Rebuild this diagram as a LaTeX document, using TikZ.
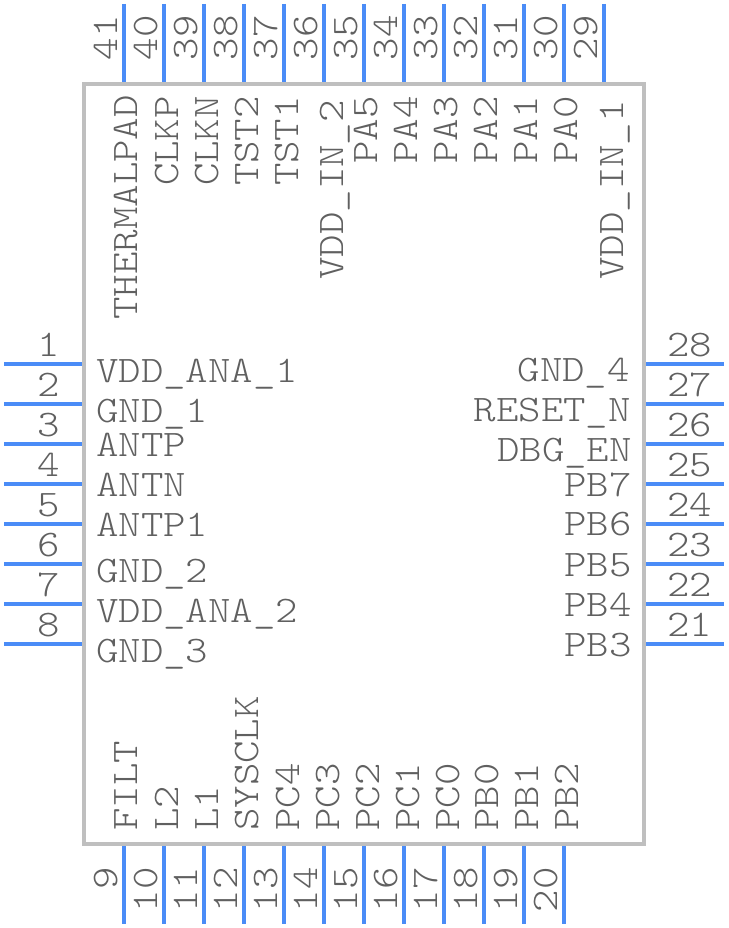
\documentclass[tikz,border=0pt]{standalone}
\usepackage{fontspec}
\setmonofont[FakeStretch=1.14]{Latin Modern Mono Light}
\definecolor{pinblue}{HTML}{4A8CF7}
\definecolor{bodygray}{HTML}{BFBFBF}
\definecolor{labelgray}{HTML}{606060}
\tikzset{
    pin line/.style={line width=4pt, pinblue},
    pin text/.style={inner sep=0pt, text=labelgray, font=\fontsize{37.5}{37.5}\selectfont\ttfamily},
}

\begin{document}
\begin{tikzpicture}[x=1pt, y=-1pt]
        \useasboundingbox (0,0) rectangle (728,928);

        % left pins
        \foreach \n/\y in {1/364,2/404,3/444,4/484,5/524,6/564,7/604,8/644} {
            \draw[pin line] (4,\y) -- (84,\y);
            \node[pin text, anchor=base east] (num\n) at (60,\y-8) {\n};
        }

        % right pins
        \foreach \n/\y in {28/364,27/404,26/444,25/484,24/524,23/564,22/604,21/644} {
            \draw[pin line] (644,\y) -- (724,\y);
            \node[pin text, anchor=base west] (num\n) at (667,\y-8) {\n};
        }

        % top pins
        \foreach \n/\x in {41/124,40/164,39/204,38/244,37/284,36/324,35/364,34/404,33/444,32/484,31/524,30/564,29/604} {
            \draw[pin line] (\x,4) -- (\x,84);
            \node[pin text, rotate=90, anchor=base east] (num\n) at (\x-7,15) {\n};
        }

        % bottom pins
        \foreach \n/\x in {9/124,10/164,11/204,12/244,13/284,14/324,15/364,16/404,17/444,18/484,19/524,20/564} {
            \draw[pin line] (\x,844) -- (\x,924);
            \node[pin text, rotate=90, anchor=base east] (num\n) at (\x-7,867) {\n};
        }

        % package outline
        \draw[line width=4pt, bodygray] (84,84) rectangle (644,844);

        % left side names
        \foreach \s/\y in {VDD\_ANA\_1/382,GND\_1/422,ANTP/456,ANTN/496,ANTP1/536,GND\_2/582,VDD\_ANA\_2/622,GND\_3/662} {
            \node[pin text, anchor=base west] at (96,\y) {\s};
        }

        % right side names
        \foreach \s/\x/\y in {GND\_4/630/381,RESET\_N/631/421,DBG\_EN/632/461,PB7/632/496,PB6/632/535,PB5/632/576,PB4/632/616,PB3/632/656} {
            \node[pin text, anchor=base east] at (\x,\y) {\s};
        }

        % top side names
        \foreach \s/\x/\y in {THERMALPAD/137/95,CLKP/178/96,CLKN/218/96,TST2/258/96,TST1/298/96,VDD\_IN\_2/343/100,PA5/377/96,PA4/417/96,PA3/457/96,PA2/497/96,PA1/537/96,PA0/577/96,VDD\_IN\_1/623/100} {
            \node[pin text, rotate=90, anchor=base east] at (\x,\y) {\s};
        }

        % bottom side names
        \foreach \s/\x in {FILT/137,L2/178,L1/218,SYSCLK/258,PC4/299,PC3/339,PC2/379,PC1/419,PC0/459,PB0/498,PB1/538,PB2/578} {
            \node[pin text, rotate=90, anchor=base west] at (\x,831) {\s};
        }
    \end{tikzpicture}
\end{document}
